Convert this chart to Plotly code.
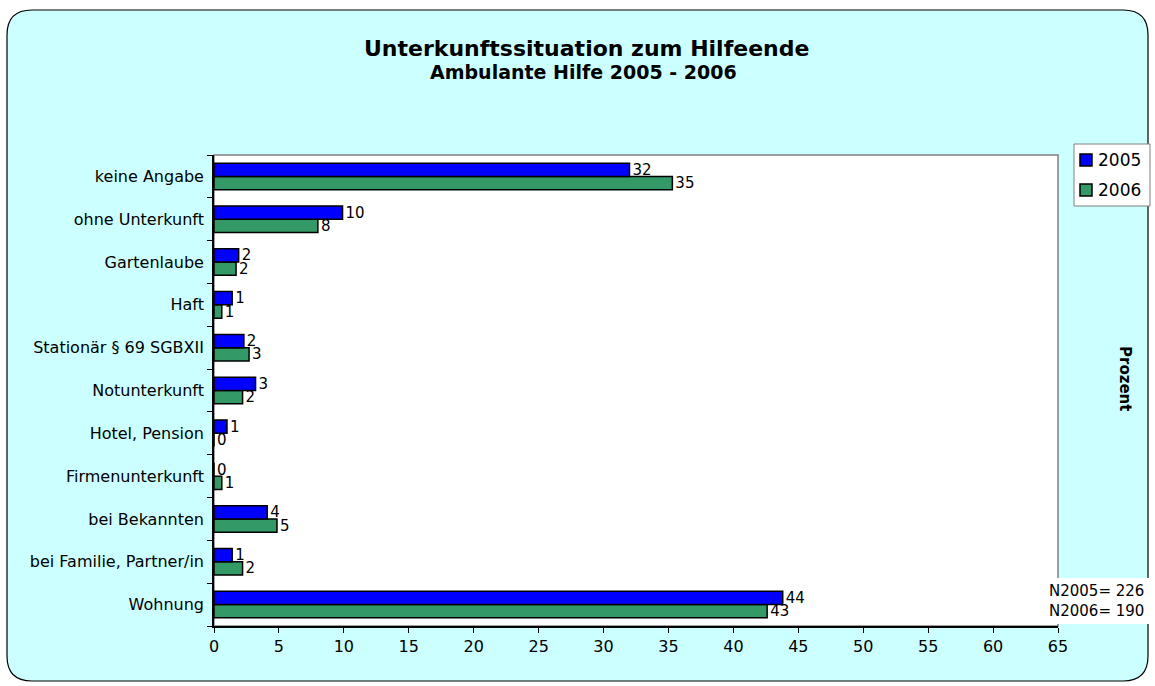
import plotly.graph_objects as go

categories = ["Wohnung", "bei Familie, Partner/in", "bei Bekannten", "Firmenunterkunft",
              "Hotel, Pension", "Notunterkunft", "Stationär § 69 SGBXII", "Haft",
              "Gartenlaube", "ohne Unterkunft", "keine Angabe"]
values_2005 = [43.8, 1.4, 4.1, 0.0, 1.0, 3.2, 2.3, 1.4, 1.9, 9.9, 32.0]
values_2006 = [42.6, 2.2, 4.85, 0.6, 0.0, 2.2, 2.7, 0.6, 1.7, 8.0, 35.3]
labels_2005 = [44, 1, 4, 0, 1, 3, 2, 1, 2, 10, 32]
labels_2006 = [43, 2, 5, 1, 0, 2, 3, 1, 2, 8, 35]
series_names = ["2005", "2006"]
series_colors = ["#0000FF", "#339966"]

FONT = "DejaVu Sans, Liberation Sans, Arial, sans-serif"
W, H = 1155, 686
L, R, T, B = 214, 1058, 155, 626
pw, ph = R - L, B - T

def px(x):
    return (x - L) / pw

def py(y):
    return (B - y) / ph

fig = go.Figure()
fig.add_trace(go.Bar(
    y=categories, x=values_2006, name=series_names[1], orientation="h",
    marker=dict(color=series_colors[1], line=dict(color="black", width=1.5)),
    text=[str(v) for v in labels_2006], textposition="outside",
    textfont=dict(size=15, color="black", family=FONT), cliponaxis=False,
    constraintext="none", showlegend=False))
fig.add_trace(go.Bar(
    y=categories, x=values_2005, name=series_names[0], orientation="h",
    marker=dict(color=series_colors[0], line=dict(color="black", width=1.5)),
    text=[str(v) for v in labels_2005], textposition="outside",
    textfont=dict(size=15, color="black", family=FONT), cliponaxis=False,
    constraintext="none", showlegend=False))

# rounded chart background
x0, x1 = px(7), px(1148)
y0, y1 = py(681), py(10)
rx, ry = 25 / pw, 25 / ph
path = (f"M {x0+rx},{y1} L {x1-rx},{y1} Q {x1},{y1} {x1},{y1-ry} "
        f"L {x1},{y0+ry} Q {x1},{y0} {x1-rx},{y0} L {x0+rx},{y0} "
        f"Q {x0},{y0} {x0},{y0+ry} L {x0},{y1-ry} Q {x0},{y1} {x0+rx},{y1} Z")
shapes = [
    dict(type="path", path=path, xref="paper", yref="paper", layer="below",
         fillcolor="#CCFFFF", line=dict(color="black", width=1.2)),
    dict(type="rect", x0=0, x1=1, y0=0, y1=1, xref="paper", yref="paper",
         layer="below", fillcolor="white", line=dict(color="#808080", width=1.5)),
    dict(type="rect", x0=px(1045), x1=px(1155), y0=py(624), y1=py(578),
         xref="paper", yref="paper", layer="above", fillcolor="white",
         line=dict(width=0)),
    # legend box
    dict(type="rect", x0=px(1074), x1=px(1150), y0=py(206), y1=py(144),
         xref="paper", yref="paper", layer="above", fillcolor="white",
         line=dict(color="#808080", width=1)),
]

annotations = [
    dict(text="<b>Unterkunftssituation zum Hilfeende</b>", x=px(586), y=py(48),
         xref="paper", yref="paper", showarrow=False, xanchor="center", yanchor="middle",
         font=dict(size=22, family=FONT, color="black")),
    dict(text="<b>Ambulante Hilfe 2005 - 2006</b>", x=px(583), y=py(72),
         xref="paper", yref="paper", showarrow=False, xanchor="center", yanchor="middle",
         font=dict(size=19, family=FONT, color="black")),
    dict(text="<b>Prozent</b>", x=px(1125), y=py(378), xref="paper", yref="paper",
         showarrow=False, textangle=90, xanchor="center", yanchor="middle",
         font=dict(size=15, family=FONT, color="black")),
    dict(text="N2005= 226<br>N2006= 190", x=px(1146), y=py(601), xref="paper",
         yref="paper", showarrow=False, xanchor="right", yanchor="middle", align="left",
         font=dict(size=15, family=FONT, color="black")),
]

# manual legend entries
for i, (nm, col) in enumerate(zip(series_names, series_colors)):
    cy = 160 + 30 * i
    shapes.append(dict(type="rect", x0=px(1080), x1=px(1092), y0=py(cy + 6), y1=py(cy - 6),
                       xref="paper", yref="paper", layer="above", fillcolor=col,
                       line=dict(color="black", width=1.5)))
    annotations.append(dict(text=nm, x=px(1096), y=py(cy), xref="paper", yref="paper",
                            showarrow=False, xanchor="left", yanchor="middle",
                            font=dict(size=17, family=FONT, color="black")))

fig.update_layout(
    width=W, height=H,
    margin=dict(l=L, r=W - R, t=T, b=H - B, autoexpand=False),
    paper_bgcolor="white", plot_bgcolor="rgba(0,0,0,0)",
    barmode="group", bargap=0.38, bargroupgap=0,
    font=dict(family=FONT, size=16, color="black"),
    shapes=shapes, annotations=annotations, showlegend=False,
    xaxis=dict(range=[0, 65], dtick=5, tick0=0, showgrid=False, zeroline=False,
               showline=True, linecolor="black", linewidth=1.5, ticks="outside",
               ticklen=5, tickcolor="black", tickfont=dict(size=16)),
    yaxis=dict(showgrid=False, zeroline=False, showline=True, linecolor="black",
               linewidth=1.5, ticks="outside", ticklen=5, tickcolor="black",
               tickson="boundaries", tickfont=dict(size=16), ticksuffix=" "),
)

post = ("document.body.style.margin='0';document.body.style.padding='0';"
        "document.body.style.overflow='hidden';"
        "var gd=document.getElementById('{plot_id}');"
        "Plotly.relayout(gd,{width:1155,height:686});")

fig.write_html("out.html", post_script=post,
               config={"responsive": False, "displayModeBar": False})
